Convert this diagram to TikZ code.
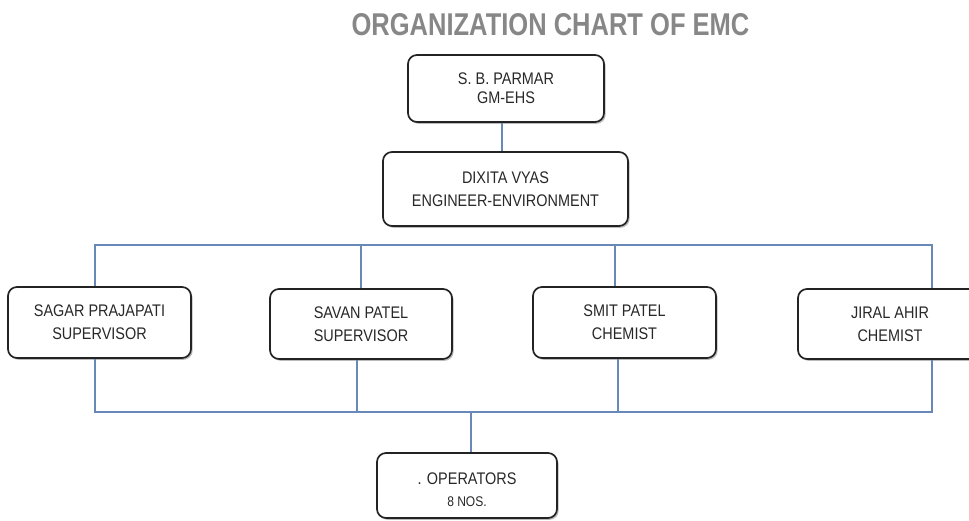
\documentclass[tikz,border=0pt]{standalone}
\usepackage{fontspec}
\setmainfont{Liberation Sans}
\newfontfamily\titlefont[FakeStretch=0.81]{Liberation Sans}
\newfontfamily\boxfont[FakeStretch=0.86]{Liberation Sans}
\usetikzlibrary{shadows}
\definecolor{linkblue}{RGB}{104,136,184}
\definecolor{boxtext}{RGB}{40,40,40}
\definecolor{titlegray}{RGB}{135,135,135}
\definecolor{boxedge}{RGB}{35,35,35}
\tikzset{
  person/.style={draw=boxedge, line width=1.7pt, rounded corners=9pt, fill=white,
    rectangle, align=center, text=boxtext, inner sep=0pt,
    font=\boxfont\fontsize{16.8}{23}\selectfont,
    drop shadow={shadow xshift=1.6pt, shadow yshift=-1.8pt, fill=black!45, opacity=0.6}},
  persontext/.style={align=center, text=boxtext, inner sep=0pt,
    font=\boxfont\fontsize{16.8}{23}\selectfont},
  link/.style={draw=linkblue, line width=1.6pt}
}
\begin{document}
\begin{tikzpicture}[x=1pt, y=-1pt]
  \fill[white] (0,0) rectangle (969,521);
  \useasboundingbox (0,0) rectangle (969,521);

  % heading
  \node[text=titlegray, font=\titlefont\bfseries\fontsize{31.5}{34}\selectfont]
    (title) at (550.5,25) {ORGANIZATION CHART OF EMC};

  % boxes
  \node[person, minimum width=196pt, minimum height=67pt,
    font=\boxfont\fontsize{16.8}{19}\selectfont] (gm) at (506,88.5)
    {S. B. PARMAR\\GM-EHS};
  \node[person, minimum width=245pt, minimum height=74pt] (eng) at (505.5,189)
    {DIXITA VYAS\\ENGINEER-ENVIRONMENT};
  \node[person, minimum width=183pt, minimum height=71pt] (sagar) at (99.5,322.5)
    {SAGAR PRAJAPATI\\SUPERVISOR};
  \node[person, minimum width=182pt, minimum height=70pt] (savan) at (361,324)
    {SAVAN PATEL\\SUPERVISOR};
  \node[person, minimum width=183pt, minimum height=71pt] (smit) at (624.5,322.5)
    {SMIT PATEL\\CHEMIST};
  \node[person, minimum width=184pt, minimum height=70pt] (jiral) at (890,324)
    {JIRAL AHIR\\CHEMIST};
  % operators box, its text sits a little below the middle
  \node[person, minimum width=180pt, minimum height=65pt,
    label={[persontext, yshift=-4.5pt]center:{. OPERATORS\\[-1pt]{\fontsize{14}{16}\selectfont 8 NOS.}}}]
    (ops) at (467,485.5) {};

  % anchor points for the connectors
  \coordinate (gmx) at (502,0);
  \coordinate (tl) at (95,245);
  \coordinate (tr) at (932,245);
  \coordinate (bl) at (95,412);
  \coordinate (br) at (932,412);
  \coordinate (savtop) at (361,245);
  \coordinate (smtop) at (615,245);
  \coordinate (savbot) at (357,412);
  \coordinate (smbot) at (618,412);
  \coordinate (opsx) at (471,412);

  % connectors
  \draw[link] (gm.south -| gmx) -- (eng.north -| gmx);
  \draw[link] (sagar.north -| tl) -- (tl) -- (tr) -- (jiral.north -| tr);
  \draw[link] (savan.north -| savtop) -- (savtop);
  \draw[link] (smit.north -| smtop) -- (smtop);
  \draw[link] (sagar.south -| bl) -- (bl) -- (br) -- (jiral.south -| br);
  \draw[link] (savan.south -| savbot) -- (savbot);
  \draw[link] (smit.south -| smbot) -- (smbot);
  \draw[link] (opsx) -- (ops.north -| opsx);
\end{tikzpicture}
\end{document}
